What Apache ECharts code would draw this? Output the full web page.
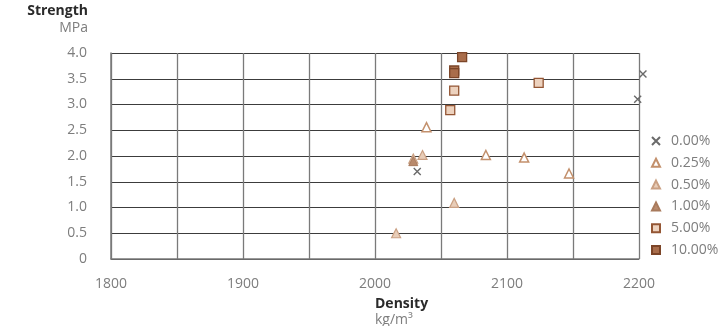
<!DOCTYPE html>
<html>
<head>
<meta charset="utf-8">
<script src="https://cdn.jsdelivr.net/npm/echarts@6/dist/echarts.min.js"></script>
<style>
  html, body { margin: 0; padding: 0; background: #fff; }
  #chart { width: 722px; height: 326px; }
</style>
</head>
<body>
<div id="chart"></div>
<script>
// Density (kg/m³) vs strength (MPa) for each additive content
const seriesNames = ['0.00%', '0.25%', '0.50%', '1.00%', '5.00%', '10.00%'];
const s000 = [[2203, 3.59], [2199, 3.10], [2032, 1.70]];
const s025 = [[2039, 2.56], [2084, 2.02], [2113, 1.97], [2147, 1.66]];
const s050 = [[2036, 2.02], [2060, 1.09], [2016, 0.50], [2029, 1.95]];
const s100 = [[2029, 1.90]];
const s500 = [[2057, 2.89], [2060, 3.27], [2124, 3.42]];
const s1000 = [[2060, 3.66], [2060, 3.61], [2066, 3.92]];
const seriesData = [s000, s025, s050, s100, s500, s1000];

const xTicks = { min: 1800, max: 2200, step: 50, labelStep: 100 };
const yTicks = { min: 0, max: 4, step: 0.5 };

const cross = 'path://M0,0L10,10M10,0L0,10';
const styles = [
  { symbol: cross, size: 7, color: 'rgba(0,0,0,0)', border: '#6a6a6a', bw: 1.4 },
  { symbol: 'triangle', size: 9, color: '#ffffff', border: '#c3906c', bw: 1.5 },
  { symbol: 'triangle', size: 9, color: '#e8cdb8', border: '#caa083', bw: 1.2 },
  { symbol: 'triangle', size: 9, color: '#b98a6c', border: '#a87a5c', bw: 1 },
  { symbol: 'rect', size: 9, color: '#edd2be', border: '#945634', bw: 1.3 },
  { symbol: 'rect', size: 9, color: '#a96d4b', border: '#7c4528', bw: 1.3 }
];

const chart = echarts.init(document.getElementById('chart'), null, { renderer: 'canvas' });
const font = "'Open Sans', 'Noto Sans', sans-serif";

chart.setOption({
  animation: false,
  backgroundColor: '#ffffff',
  grid: { left: 111, right: 83, top: 53, bottom: 67 },
  xAxis: {
    type: 'value',
    min: xTicks.min, max: xTicks.max, interval: xTicks.step,
    axisLine: { show: true, lineStyle: { color: '#7a7a7a', width: 1.5 } },
    axisTick: { show: false },
    splitLine: { show: true, lineStyle: { color: '#7a7a7a', width: 1.3 } },
    axisLabel: {
      color: '#7d7d7d', fontSize: 14, fontFamily: font, margin: 18,
      formatter: v => (v % xTicks.labelStep === 0 ? String(v) : '')
    }
  },
  yAxis: {
    type: 'value',
    min: yTicks.min, max: yTicks.max, interval: yTicks.step,
    axisLine: { show: true, lineStyle: { color: '#7a7a7a', width: 1.5 } },
    axisTick: { show: false },
    splitLine: { show: true, lineStyle: { color: '#3c3c3c', width: 1 } },
    axisLabel: {
      color: '#7d7d7d', fontSize: 14, fontFamily: font, margin: 24,
      formatter: v => (v === 0 ? '0' : v.toFixed(1))
    }
  },
  legend: {
    orient: 'vertical',
    left: 646, top: 129,
    itemWidth: 8, itemHeight: 8, itemGap: 7.8,
    textStyle: { color: '#7d7d7d', fontSize: 14, fontFamily: font, padding: [0, 0, 0, 6] },
    data: seriesNames
  },
  graphic: [
    { type: 'text', right: 634, top: 4, style: { text: 'Strength', font: "bold 14px " + font, fill: '#2a2a2a', textAlign: 'right' } },
    { type: 'text', right: 634, top: 21, style: { text: 'MPa', font: "14px " + font, fill: '#7d7d7d', textAlign: 'right' } },
    { type: 'text', left: 375, top: 297, style: { text: 'Density', font: "bold 14px " + font, fill: '#2a2a2a', textAlign: 'center' } },
    { type: 'text', left: 375, top: 313, style: { text: 'kg/m³', font: "14px " + font, fill: '#7d7d7d', textAlign: 'center' } }
  ],
  series: seriesNames.map((name, i) => ({
    name,
    type: 'scatter',
    clip: false,
    symbol: styles[i].symbol,
    symbolSize: styles[i].size,
    data: seriesData[i],
    itemStyle: { color: styles[i].color, borderColor: styles[i].border, borderWidth: styles[i].bw, opacity: 1 }
  }))
});
</script>
</body>
</html>
